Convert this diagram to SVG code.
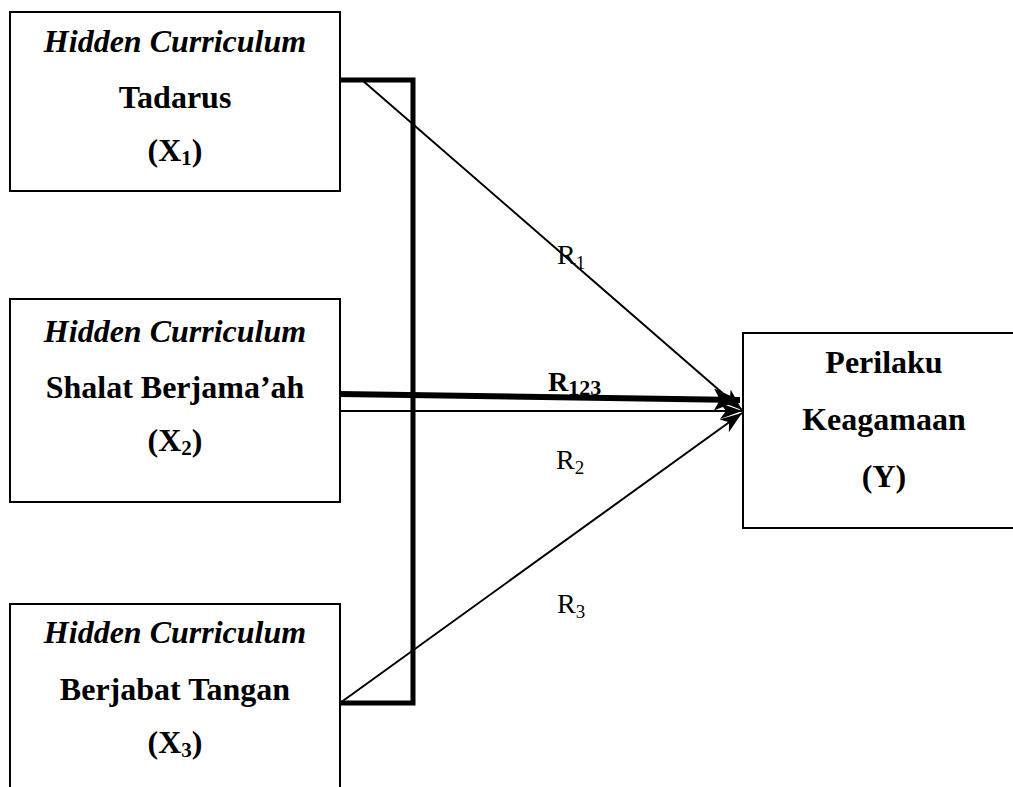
<svg xmlns="http://www.w3.org/2000/svg" width="1013" height="787" viewBox="0 0 1013 787">
<style>
.box{fill:#fff;stroke:#000;stroke-width:2}
.t{font-family:"Liberation Serif","Times New Roman",serif;font-size:32px;font-weight:bold;text-anchor:middle;fill:#000}
.i{font-style:italic}
.lbl{font-family:"Liberation Serif","Times New Roman",serif;font-size:28px;fill:#000}
.thin{stroke:#000;stroke-width:2;fill:none}
.thick{stroke:#000;stroke-width:5;fill:none}
</style>
<defs>
<marker id="ah" markerUnits="userSpaceOnUse" markerWidth="24" markerHeight="18" refX="22" refY="8" orient="auto">
<path d="M0,0 L22,8 L0,16 L6,8 z" fill="#000"/>
</marker>
<marker id="ahb" markerUnits="userSpaceOnUse" markerWidth="28" markerHeight="24" refX="26" refY="11" orient="auto">
<path d="M0,0 L26,11 L0,22 L6,11 z" fill="#000"/>
</marker>
</defs>
<g id="x1">
<rect class="box" x="10" y="12" width="330" height="179"/>
<text class="t i" x="175" y="52">Hidden Curriculum</text>
<text class="t" x="175" y="108">Tadarus</text>
<text class="t" x="175" y="161">(X<tspan font-size="21" dy="4">1</tspan><tspan dy="-4">)</tspan></text>
</g>
<g id="x2">
<rect class="box" x="10" y="299" width="330" height="203"/>
<text class="t i" x="175" y="342">Hidden Curriculum</text>
<text class="t" x="175" y="398">Shalat Berjama’ah</text>
<text class="t" x="175" y="451">(X<tspan font-size="21" dy="4">2</tspan><tspan dy="-4">)</tspan></text>
</g>
<g id="x3">
<rect class="box" x="10" y="604" width="330" height="200"/>
<text class="t i" x="175" y="643">Hidden Curriculum</text>
<text class="t" x="175" y="700">Berjabat Tangan</text>
<text class="t" x="175" y="753">(X<tspan font-size="21" dy="4">3</tspan><tspan dy="-4">)</tspan></text>
</g>
<g id="y">
<rect class="box" x="743" y="333" width="290" height="195"/>
<text class="t" x="884" y="373">Perilaku</text>
<text class="t" x="884" y="430">Keagamaan</text>
<text class="t" x="884" y="487">(Y)</text>
</g>
<g id="connectors">
<path class="thick" d="M340,80 H413 V703 H340"/>
<line class="thin" x1="362" y1="80" x2="742" y2="410" marker-end="url(#ah)"/>
<line class="thin" x1="340" y1="411" x2="742" y2="411" marker-end="url(#ah)"/>
<line class="thin" x1="340" y1="703" x2="742" y2="413" marker-end="url(#ah)"/>
<line x1="340" y1="394" x2="740" y2="400" stroke="#000" stroke-width="6" marker-end="url(#ahb)"/>
<text class="lbl" x="557" y="264">R<tspan font-size="19" dy="5">1</tspan></text>
<text class="lbl" x="556" y="469">R<tspan font-size="19" dy="5">2</tspan></text>
<text class="lbl" x="557" y="613">R<tspan font-size="19" dy="5">3</tspan></text>
<text class="lbl" x="548" y="391" font-weight="bold" font-size="31">R<tspan font-size="22" dy="4">123</tspan></text>
</g>
</svg>
